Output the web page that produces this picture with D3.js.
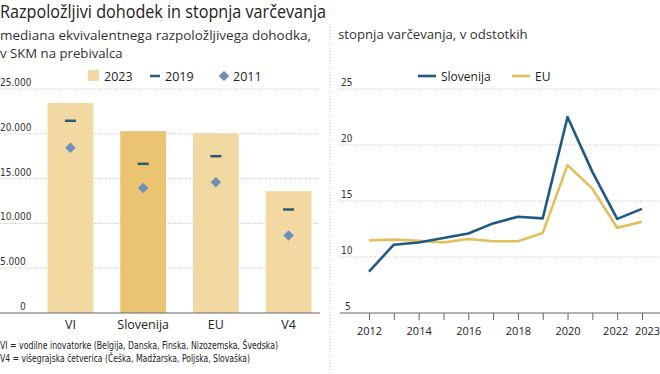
<!DOCTYPE html>
<html>
<head>
<meta charset="utf-8">
<script src="https://cdn.jsdelivr.net/npm/d3@7"></script>
<style>
  body { margin: 0; background: #fff; }
  svg { display: block; font-family: "Open Sans", "Noto Sans", sans-serif; }
  .small { font-family: "Liberation Sans Narrow", "DejaVu Sans Condensed", sans-serif; }
</style>
</head>
<body>
<svg width="660" height="374"></svg>
<script>
// Data
var categories = ['VI', 'Slovenija', 'EU', 'V4'];
var income2023 = [23450, 20300, 20050, 13600];
var income2019 = [21450, 16650, 17500, 11550];
var income2011 = [18450, 13950, 14600, 8650];
var incomeTicks = [0, 5000, 10000, 15000, 20000, 25000];

var years = [2012, 2013, 2014, 2015, 2016, 2017, 2018, 2019, 2020, 2021, 2022, 2023];
var savingsSlo = [8.7, 11.1, 11.3, 11.7, 12.1, 13.0, 13.6, 13.45, 22.5, 17.6, 13.4, 14.3];
var savingsEU = [11.5, 11.55, 11.45, 11.3, 11.6, 11.4, 11.4, 12.15, 18.2, 16.1, 12.6, 13.15];
var savingsTicks = [5, 10, 15, 20, 25];
var yearLabels = [2012, 2014, 2016, 2018, 2020, 2022, 2023];

var svg = d3.select('svg');

var colBar = '#f2d9a2';
var colBarSlo = '#ebc472';
var col2019 = '#2d5873';
var col2011 = '#6f8fb6';
var colSlo = '#1f5a85';
var colEU = '#e2be5c';
var gridCol = '#bdbdbd';

// Title
svg.append('text').attr('x', 0).attr('y', 18)
    .attr('font-size', 17.5).attr('fill', '#222')
    .attr('textLength', 326).attr('lengthAdjust', 'spacingAndGlyphs')
    .text('Razpoložljivi dohodek in stopnja varčevanja');

svg.append('text').attr('x', 0).attr('y', 40)
    .attr('font-size', 13.2).attr('fill', '#333')
    .attr('textLength', 311).attr('lengthAdjust', 'spacingAndGlyphs')
    .text('mediana ekvivalentnega razpoložljivega dohodka,');
svg.append('text').attr('x', 0).attr('y', 58)
    .attr('font-size', 13.2).attr('fill', '#333')
    .text('v SKM na prebivalca');

svg.append('text').attr('x', 338).attr('y', 39)
    .attr('font-size', 13.2).attr('fill', '#333')
    .text('stopnja varčevanja, v odstotkih');

// separator
svg.append('line')
    .attr('x1', 330).attr('x2', 330).attr('y1', 24).attr('y2', 374)
    .attr('stroke', '#ccc').attr('stroke-dasharray', '1,2');

/**
 * Left chart
 */
var yInc = d3.scaleLinear().domain([0, 25000]).range([313, 89]);
var xCat = d3.scaleBand().domain(categories).range([33, 326]).paddingInner(0.37).paddingOuter(0.2);

var fmt = function(d) { return d3.format(',')(d).replace(/,/g, '.'); };

var leftG = svg.append('g');

leftG.selectAll('.grid').data(incomeTicks.filter(function(d){ return d > 0; }))
    .enter().append('line')
    .attr('x1', 0).attr('x2', 320)
    .attr('y1', function(d){ return yInc(d); })
    .attr('y2', function(d){ return yInc(d); })
    .attr('stroke', gridCol).attr('stroke-dasharray', '1,1.5');

leftG.selectAll('.ylab').data(incomeTicks)
    .enter().append('text')
    .attr('class', 'small')
    .attr('x', function(d){ return d === 0 ? 20 : 0; })
    .attr('y', function(d){ return yInc(d) - 3; })
    .attr('font-size', 10).attr('fill', '#333')
    .text(function(d){ return fmt(d); });

leftG.selectAll('.bar').data(categories)
    .enter().append('rect')
    .attr('x', function(d){ return xCat(d); })
    .attr('width', xCat.bandwidth())
    .attr('y', function(d, i){ return yInc(income2023[i]); })
    .attr('height', function(d, i){ return yInc(0) - yInc(income2023[i]); })
    .attr('fill', function(d){ return d === 'Slovenija' ? colBarSlo : colBar; });

leftG.append('line')
    .attr('x1', 0).attr('x2', 320).attr('y1', yInc(0)).attr('y2', yInc(0))
    .attr('stroke', '#666').attr('stroke-width', 1.2);

leftG.selectAll('.m2019').data(categories)
    .enter().append('line')
    .attr('x1', function(d){ return xCat(d) + xCat.bandwidth()/2 - 5.5; })
    .attr('x2', function(d){ return xCat(d) + xCat.bandwidth()/2 + 5.5; })
    .attr('y1', function(d, i){ return yInc(income2019[i]); })
    .attr('y2', function(d, i){ return yInc(income2019[i]); })
    .attr('stroke', col2019).attr('stroke-width', 2.5);

var diamond = d3.symbol().type(d3.symbolDiamond2).size(70);
leftG.selectAll('.m2011').data(categories)
    .enter().append('path')
    .attr('d', diamond)
    .attr('transform', function(d, i){
        return 'translate(' + [xCat(d) + xCat.bandwidth()/2, yInc(income2011[i])] + ')';
    })
    .attr('fill', col2011);

leftG.selectAll('.xlab').data(categories)
    .enter().append('text')
    .attr('x', function(d){ return xCat(d) + xCat.bandwidth()/2; })
    .attr('y', 329)
    .attr('text-anchor', 'middle')
    .attr('font-size', 12.5).attr('fill', '#222')
    .text(function(d){ return d; });

// legend
leftG.append('rect').attr('x', 88).attr('y', 70).attr('width', 11).attr('height', 11).attr('fill', colBar);
leftG.append('text').attr('x', 104).attr('y', 81).attr('font-size', 12.5).attr('fill', '#222').text('2023');
leftG.append('line').attr('x1', 150).attr('x2', 160).attr('y1', 76).attr('y2', 76)
    .attr('stroke', col2019).attr('stroke-width', 2.5);
leftG.append('text').attr('x', 165).attr('y', 81).attr('font-size', 12.5).attr('fill', '#222').text('2019');
leftG.append('path').attr('d', diamond).attr('transform', 'translate(224,76)').attr('fill', col2011);
leftG.append('text').attr('x', 233).attr('y', 81).attr('font-size', 12.5).attr('fill', '#222').text('2011');

// footnotes
leftG.append('text').attr('class', 'small').attr('x', 0).attr('y', 349)
    .attr('font-size', 10.5).attr('fill', '#222')
    .attr('textLength', 278).attr('lengthAdjust', 'spacingAndGlyphs')
    .text('VI = vodilne inovatorke (Belgija, Danska, Finska, Nizozemska, Švedska)');
leftG.append('text').attr('class', 'small').attr('x', 0).attr('y', 362)
    .attr('font-size', 10.5).attr('fill', '#222')
    .attr('textLength', 250).attr('lengthAdjust', 'spacingAndGlyphs')
    .text('V4 = višegrajska četverica (Češka, Madžarska, Poljska, Slovaška)');

/**
 * Right chart
 */
var ySav = d3.scaleLinear().domain([5, 25]).range([313, 89]);
var xYear = d3.scaleLinear().domain([2012, 2023]).range([369, 642]);

var rightG = svg.append('g');

rightG.selectAll('.grid').data(savingsTicks.filter(function(d){ return d > 5; }))
    .enter().append('line')
    .attr('x1', 340).attr('x2', 660)
    .attr('y1', function(d){ return ySav(d); })
    .attr('y2', function(d){ return ySav(d); })
    .attr('stroke', gridCol).attr('stroke-dasharray', '1,1.5');

rightG.selectAll('.ylab').data(savingsTicks)
    .enter().append('text')
    .attr('class', 'small')
    .attr('x', function(d){ return d === 5 ? 345 : 341; })
    .attr('y', function(d){ return ySav(d) - 3; })
    .attr('font-size', 10).attr('fill', '#333')
    .text(function(d){ return d; });

var xAxis = d3.axisBottom(xYear)
    .tickValues(years)
    .tickSize(7)
    .tickFormat(function(d){ return yearLabels.indexOf(d) >= 0 ? d : ''; });

var axisG = rightG.append('g')
    .attr('transform', 'translate(0,' + ySav(5) + ')')
    .call(xAxis);
axisG.select('.domain').remove();
axisG.selectAll('.tick line').attr('stroke', '#666');
axisG.selectAll('.tick text')
    .attr('font-family', '"Open Sans", sans-serif')
    .attr('font-size', 11).attr('fill', '#222').attr('dy', '1.1em')
    .attr('dx', function(d){ return d === 2023 ? 5 : (d === 2022 ? -2 : 0); });
rightG.append('line')
    .attr('x1', 340).attr('x2', 660).attr('y1', ySav(5)).attr('y2', ySav(5))
    .attr('stroke', '#666').attr('stroke-width', 1.2);

var line = d3.line()
    .x(function(d, i){ return xYear(years[i]); })
    .y(function(d){ return ySav(d); });

rightG.append('path').datum(savingsEU)
    .attr('d', line).attr('fill', 'none')
    .attr('stroke', colEU).attr('stroke-width', 2.6).attr('stroke-linejoin', 'round');
rightG.append('path').datum(savingsSlo)
    .attr('d', line).attr('fill', 'none')
    .attr('stroke', colSlo).attr('stroke-width', 2.6).attr('stroke-linejoin', 'round');

// legend
rightG.append('line').attr('x1', 418).attr('x2', 436).attr('y1', 76).attr('y2', 76)
    .attr('stroke', colSlo).attr('stroke-width', 2.6);
rightG.append('text').attr('x', 441).attr('y', 81).attr('font-size', 12).attr('fill', '#222').text('Slovenija');
rightG.append('line').attr('x1', 512).attr('x2', 530).attr('y1', 76).attr('y2', 76)
    .attr('stroke', colEU).attr('stroke-width', 2.6);
rightG.append('text').attr('x', 535).attr('y', 81).attr('font-size', 12).attr('fill', '#222').text('EU');
</script>
</body>
</html>
